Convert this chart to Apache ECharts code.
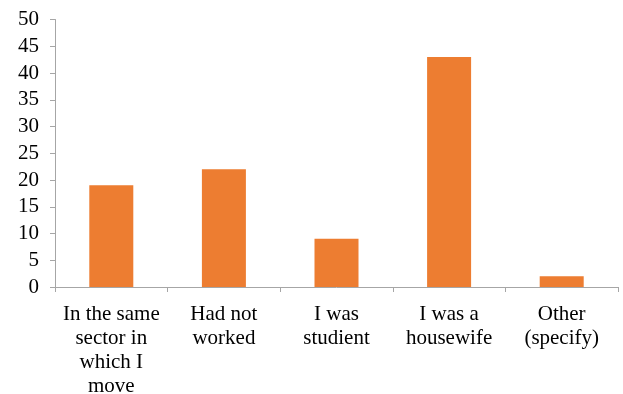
<!DOCTYPE html>
<html>
<head>
<meta charset="utf-8">
<script src="https://cdn.jsdelivr.net/npm/echarts@6/dist/echarts.min.js"></script>
<style>
  html, body { margin: 0; padding: 0; background: #fff; }
  #main { width: 623px; height: 394px; }
</style>
</head>
<body>
<div id="main"></div>
<script>
const categories = [
  "In the same\nsector in\nwhich I\nmove",
  "Had not\nworked",
  "I was\nstudient",
  "I was a\nhousewife",
  "Other\n(specify)"
];
const values = [19, 22, 9, 43, 2];
const yMin = 0;
const yMax = 50;
const yStep = 5;

const chart = echarts.init(document.getElementById("main"));
const axisColor = "#A6A6A6";
const font = "Times New Roman, Liberation Serif, serif";

const option = {
  backgroundColor: "#fff",
  animation: false,
  textStyle: { fontFamily: font },
  grid: {
    left: 55,
    right: 5,
    top: 19.5,
    bottom: 107,
    containLabel: false,
    outerBoundsMode: "none"
  },
  xAxis: {
    type: "category",
    data: categories,
    axisLine: { lineStyle: { color: axisColor, width: 1 } },
    axisTick: { show: true, length: 5, lineStyle: { color: axisColor } },
    axisLabel: {
      color: "#000",
      fontFamily: font,
      fontSize: 21,
      lineHeight: 24,
      margin: 15,
      interval: 0
    }
  },
  yAxis: {
    type: "value",
    min: yMin,
    max: yMax,
    interval: yStep,
    splitLine: { show: false },
    axisLine: { show: true, lineStyle: { color: axisColor, width: 1 } },
    axisTick: { show: true, length: 5, lineStyle: { color: axisColor } },
    axisLabel: {
      color: "#000",
      fontFamily: font,
      fontSize: 21,
      margin: 16
    }
  },
  series: [
    {
      type: "bar",
      data: values,
      barWidth: 44,
      itemStyle: { color: "#ED7D31" }
    }
  ]
};

chart.setOption(option);
</script>
</body>
</html>
